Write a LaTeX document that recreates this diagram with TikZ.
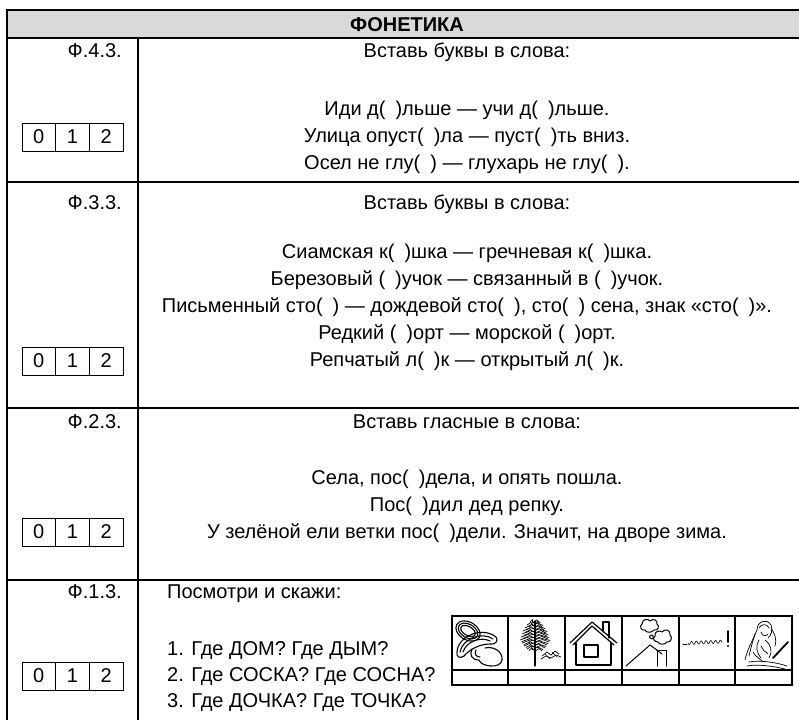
\documentclass[tikz,border=0pt]{standalone}
\usepackage{fontspec}
\setmainfont{Liberation Sans}
\newcommand\fs{\fontsize{20}{24}\selectfont}
\newcommand\gp{(\hspace{0.5em})}
\definecolor{headgray}{RGB}{217,217,217}
\begin{document}
\begin{tikzpicture}[x=1pt,y=-1pt,
  every node/.style={font=\fs, inner sep=0pt},
  tbl/.style={line width=2pt, line cap=rect},
  lbl/.style={anchor=base east},
  ctr/.style={anchor=base},
  lft/.style={anchor=base west},
  scorecell/.style={draw, line width=0.9pt, minimum width=33.7pt, minimum height=28pt, anchor=center},
  pic/.style={line width=1pt, line cap=round, line join=round},
  strip/.style={line width=1.5pt}]
\useasboundingbox (0,0) rectangle (799,719);
% header
\fill[headgray] (7,10) rectangle (810,38);
\draw[tbl] (810,10) -- (7,10) -- (7,722);
\draw[tbl] (7,38) -- (810,38);
\draw[tbl] (138,38) -- (138,722);
\draw[tbl] (7,182) -- (810,182);
\draw[tbl] (7,408) -- (810,408);
\draw[tbl] (7,580) -- (810,580);
\node[ctr, font=\fs\bfseries] (head) at (407,32) {ФОНЕТИКА};
% row 1
\node[lbl] (l1) at (122,58) {Ф.4.3.};
\node[ctr] (t1) at (467,58) {Вставь буквы в слова:};
\node[ctr] (t1a) at (467,116) {Иди д\gp{}льше — учи д\gp{}льше.};
\node[ctr] (t1b) at (467,143) {Улица опуст\gp{}ла — пуст\gp{}ть вниз.};
\node[ctr] (t1c) at (467,170) {Осел не глу\gp{} — глухарь не глу\gp{}.};
\node[scorecell] (s1a) at (38.8,137) {0};
\node[scorecell] (s1b) at (72.5,137) {1};
\node[scorecell] (s1c) at (106.2,137) {2};
% row 2
\node[lbl] (l2) at (122,210) {Ф.3.3.};
\node[ctr] (t2) at (467,210) {Вставь буквы в слова:};
\node[ctr] (t2a) at (467,258) {Сиамская к\gp{}шка — гречневая к\gp{}шка.};
\node[ctr] (t2b) at (467,285) {Березовый \gp{}учок — связанный в \gp{}учок.};
\node[ctr] (t2c) at (467,312) {Письменный сто\gp{} — дождевой сто\gp{}, сто\gp{} сена, знак «сто\gp{}».};
\node[ctr] (t2d) at (467,339) {Редкий \gp{}орт — морской \gp{}орт.};
\node[ctr] (t2e) at (467,366) {Репчатый л\gp{}к — открытый л\gp{}к.};
\node[scorecell] (s2a) at (38.8,361) {0};
\node[scorecell] (s2b) at (72.5,361) {1};
\node[scorecell] (s2c) at (106.2,361) {2};
% row 3
\node[lbl] (l3) at (122,428) {Ф.2.3.};
\node[ctr] (t3) at (467,428) {Вставь гласные в слова:};
\node[ctr] (t3a) at (467,484) {Села, пос\gp{}дела, и опять пошла.};
\node[ctr] (t3b) at (467,511) {Пос\gp{}дил дед репку.};
\node[ctr] (t3c) at (467,538) {У зелёной ели ветки пос\gp{}дели. Значит, на дворе зима.};
\node[scorecell] (s3a) at (38.8,532) {0};
\node[scorecell] (s3b) at (72.5,532) {1};
\node[scorecell] (s3c) at (106.2,532) {2};
% row 4
\node[lbl] (l4) at (122,598) {Ф.1.3.};
\node[lft] (t4) at (167,598) {Посмотри и скажи:};
\node[lft] (t4a) at (167,655) {1. Где ДОМ? Где ДЫМ?};
\node[lft] (t4b) at (167,681) {2. Где СОСКА? Где СОСНА?};
\node[lft] (t4c) at (167,707) {3. Где ДОЧКА? Где ТОЧКА?};
\node[scorecell] (s4a) at (38.8,676) {0};
\node[scorecell] (s4b) at (72.5,676) {1};
\node[scorecell] (s4c) at (106.2,676) {2};
% picture strip
\draw[strip] (452,616) rectangle (792,685);
\draw[strip] (452,670) -- (792,670);
\foreach \xx in {508,565,622,679,735} \draw[strip] (\xx,616) -- (\xx,685);
% 1 pacifier
\begin{scope}[shift={(452,616)}, pic, line width=1.1pt]
  \draw[rotate around={-30:(16,15)}] (16,15) ellipse [x radius=13, y radius=9];
  \draw[rotate around={-30:(16,15)}] (16,15) ellipse [x radius=10.5, y radius=6.8];
  \draw[rotate around={-30:(16,15)}] (16,15) ellipse [x radius=8, y radius=4.5];
  \draw (5,36) .. controls (6,20) and (30,10) .. (44,21) .. controls (47,25) and (43,29) .. (38,28) .. controls (28,28) and (18,33) .. (12,40) .. controls (8,43) and (4,41) .. (5,36);
  \draw (8,36) .. controls (10,23) and (30,15) .. (41,23);
  \draw (11,36) .. controls (14,26) and (28,20) .. (38,25);
  \draw (20,33) .. controls (17,39) and (20,44) .. (27,44) .. controls (29,51) and (49,53) .. (50,44) .. controls (51,35) and (41,30) .. (33,32);
  \draw (24,34) .. controls (22,38) and (24,41) .. (28,41);
\end{scope}
% 2 pine tree
\begin{scope}[shift={(508,616)}, pic, line width=0.7pt]
  \draw[line width=1.1pt] (27,50) -- (27,5);
  \foreach \yy/\w in {5/5,8/8,11/10,14/12,17/13,20/14,23/15,26/13,29/11,32/8} {
    \draw (27-\w,\yy+1) -- (27-\w/2,\yy-1.5) -- (27-2,\yy+1.5) -- (27+\w/3,\yy-1) -- (27+\w,\yy+1.5);
    \draw (27-\w+2,\yy+2.5) -- (27-\w/2,\yy+0.5) -- (27-1,\yy+2);
    \draw (27+1,\yy+2.5) -- (27+\w/2,\yy+0.5) -- (27+\w-1,\yy+3);
  }
  \draw (34,40) -- (39,36) -- (43,39) -- (47,35) -- (51,38);
  \draw (33,43) -- (38,40) -- (43,42) -- (48,39) -- (53,41);
  \draw (37,38) -- (42,43) (44,36) -- (49,41);
\end{scope}
% 3 house
\begin{scope}[shift={(565,616)}, pic, line width=1.2pt]
  \draw (5,27) -- (27,6) -- (52,27);
  \draw (8,29) -- (27,10) -- (49,29);
  \draw (38,16) -- (38,6) -- (44,6) -- (44,22);
  \draw (11,27) -- (11,49) -- (46,49) -- (46,27);
  \draw (19,29) rectangle (33,41);
\end{scope}
% 4 smoke
\begin{scope}[shift={(622,616)}, pic]
  \draw (4,50) -- (28,29) -- (40,38);
  \draw (35,34) -- (35,50);
  \draw (35,34) -- (44,34) -- (44,50);
  \draw (20,8) .. controls (20,3) and (26,2) .. (28,5) .. controls (31,2) and (36,4) .. (35,8) .. controls (38,10) and (36,15) .. (32,14) .. controls (30,17) and (24,17) .. (23,14) .. controls (19,15) and (17,10) .. (20,8);
  \draw (33,20) .. controls (32,15) and (38,14) .. (40,16) .. controls (43,12) and (49,14) .. (48,19) .. controls (51,21) and (49,27) .. (45,26) .. controls (43,29) and (37,29) .. (36,26) .. controls (32,26) and (30,22) .. (33,20);
  \draw (28,22) .. controls (26,20) and (30,18) .. (31,20) .. controls (32,23) and (29,24) .. (28,22);
\end{scope}
% 5 tochka scribble
\begin{scope}[shift={(679,616)}, pic, line width=0.6pt]
  \draw (4,28) -- (8,28);
  \draw plot[domain=0:34, samples=70, smooth] ({\x+9}, {27+1.6*sin(\x*75)-0.04*\x});
  \draw[line width=1.6pt] (49,15) -- (49,26);
  \fill (49,30) circle (1.2);
\end{scope}
% 6 girl
\begin{scope}[shift={(735,616)}, pic, line width=0.7pt]
  \draw (22,14) .. controls (22,5) and (32,2) .. (36,9) .. controls (38,14) and (36,20) .. (33,22);
  \draw (24,12) .. controls (26,8) and (32,7) .. (34,12);
  \draw (26,16) .. controls (27,20) and (31,21) .. (33,18);
  \draw (22,14) .. controls (18,22) and (16,32) .. (14,40);
  \draw (20,18) .. controls (17,26) and (12,34) .. (10,44);
  \draw (36,12) .. controls (40,18) and (42,24) .. (40,30);
  \draw (24,24) .. controls (20,30) and (22,38) .. (26,42);
  \draw (30,24) .. controls (36,28) and (38,36) .. (34,42);
  \draw (14,46) .. controls (24,44) and (40,46) .. (52,50);
  \draw (12,50) .. controls (22,48) and (38,50) .. (50,53);
  \draw (26,30) .. controls (28,34) and (30,36) .. (33,38);
  \draw (18,36) .. controls (20,40) and (24,42) .. (28,46);
  \draw[line width=1.8pt] (38,42) -- (53,26);
\end{scope}
\end{tikzpicture}
\end{document}
